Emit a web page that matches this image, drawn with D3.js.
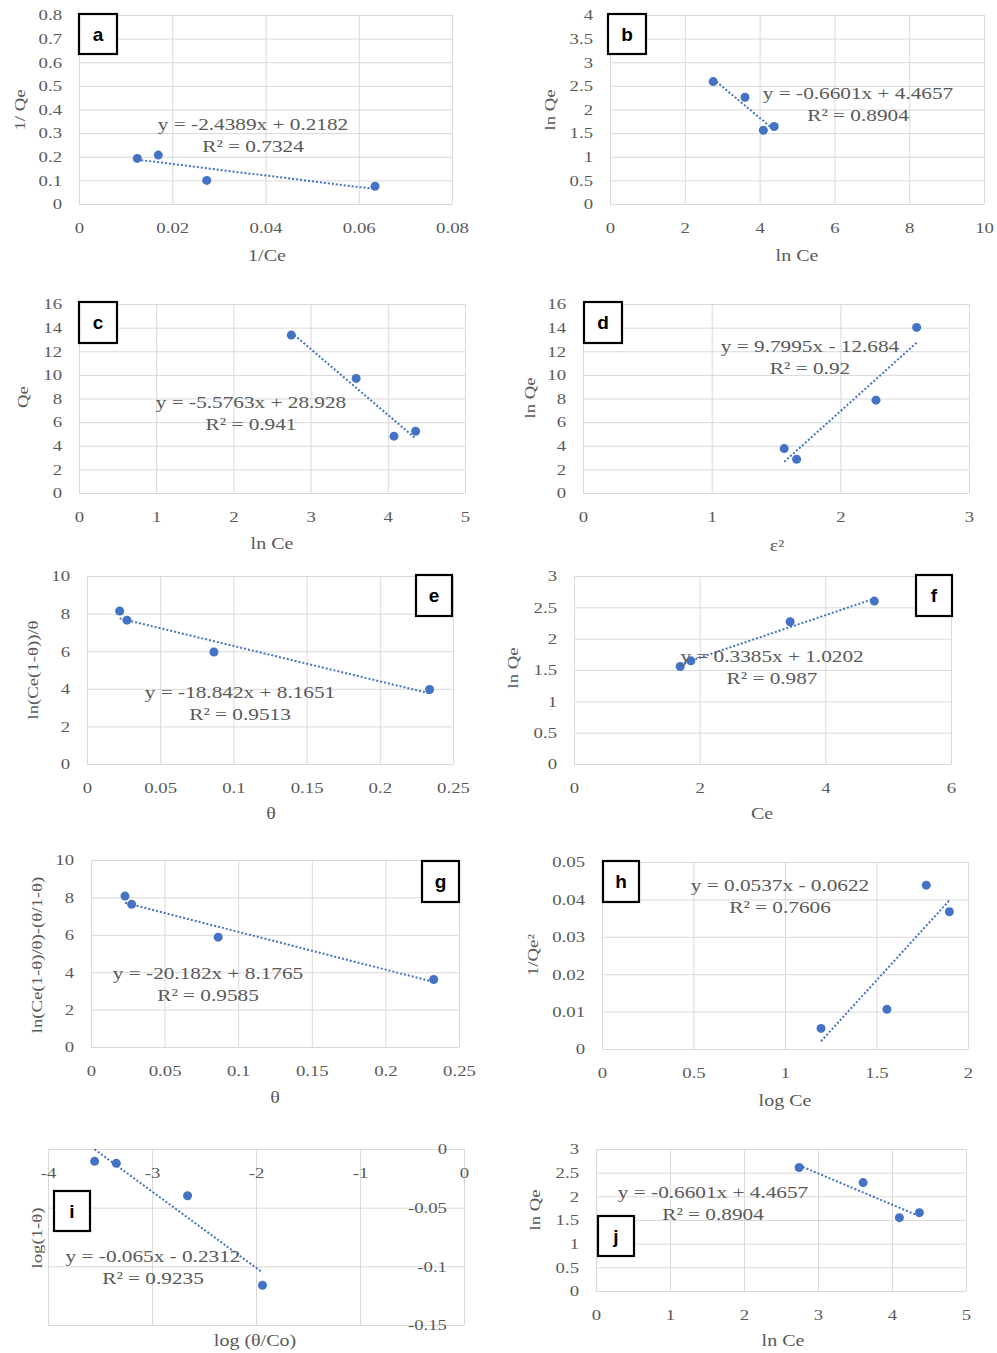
<!DOCTYPE html>
<html>
<head>
<meta charset="utf-8">
<script src="https://cdn.jsdelivr.net/npm/d3@7"></script>
<style>
   body { margin: 0; background: #fff; }
   svg text { font-family: "Liberation Serif", "Times New Roman", serif; fill: #595959; }
</style>
</head>
<body>
<svg id="fig" width="997" height="1353"></svg>
<script>
// a - Langmuir
var aX = [0.0125, 0.017, 0.0274, 0.0635];
var aY = [0.193, 0.207, 0.100, 0.075];
var aFit = [-2.4389, 0.2182];
var aXTicks = [0, 0.02, 0.04, 0.06, 0.08];
var aYTicks = [0, 0.1, 0.2, 0.3, 0.4, 0.5, 0.6, 0.7, 0.8];

// b - Freundlich
var bX = [2.76, 3.61, 4.10, 4.39];
var bY = [2.59, 2.26, 1.56, 1.64];
var bFit = [-0.6601, 4.4657];
var bXTicks = [0, 2, 4, 6, 8, 10];
var bYTicks = [0, 0.5, 1, 1.5, 2, 2.5, 3, 3.5, 4];

// c - Temkin
var cX = [2.75, 3.59, 4.08, 4.36];
var cY = [13.37, 9.70, 4.81, 5.23];
var cFit = [-5.5763, 28.928];
var cXTicks = [0, 1, 2, 3, 4, 5];
var cYTicks = [0, 2, 4, 6, 8, 10, 12, 14, 16];

// d - D-R
var dX = [1.564, 1.66, 2.277, 2.593];
var dY = [3.76, 2.86, 7.86, 14.02];
var dFit = [9.7995, -12.684];
var dXTicks = [0, 1, 2, 3];
var dYTicks = [0, 2, 4, 6, 8, 10, 12, 14, 16];

// e
var eX = [0.0223, 0.0273, 0.0867, 0.234];
var eY = [8.14, 7.65, 5.96, 3.96];
var eFit = [-18.842, 8.1651];
var eXTicks = [0, 0.05, 0.1, 0.15, 0.2, 0.25];
var eYTicks = [0, 2, 4, 6, 8, 10];

// f
var fX = [1.69, 1.86, 3.44, 4.78];
var fY = [1.556, 1.646, 2.27, 2.60];
var fFit = [0.3385, 1.0202];
var fXTicks = [0, 2, 4, 6];
var fYTicks = [0, 0.5, 1, 1.5, 2, 2.5, 3];

// g
var gX = [0.0231, 0.0276, 0.0864, 0.2328];
var gY = [8.07, 7.63, 5.875, 3.61];
var gFit = [-20.182, 8.1765];
var gXTicks = [0, 0.05, 0.1, 0.15, 0.2, 0.25];
var gYTicks = [0, 2, 4, 6, 8, 10];

// h
var hX = [1.197, 1.557, 1.772, 1.898];
var hY = [0.0055, 0.0106, 0.0438, 0.0367];
var hFit = [0.0537, -0.0622];
var hXTicks = [0, 0.5, 1, 1.5, 2];
var hYTicks = [0, 0.01, 0.02, 0.03, 0.04, 0.05];

// i
var iX = [-3.552, -3.343, -2.658, -1.938];
var iY = [-0.0105, -0.0122, -0.0398, -0.1161];
var iFit = [-0.065, -0.2312];
var iXTicks = [-4, -3, -2, -1, 0];
var iYTicks = [-0.15, -0.1, -0.05, 0];

// j
var jX = [2.745, 3.61, 4.10, 4.37];
var jY = [2.61, 2.29, 1.55, 1.655];
var jFit = [-0.6601, 4.4657];
var jXTicks = [0, 1, 2, 3, 4, 5];
var jYTicks = [0, 0.5, 1, 1.5, 2, 2.5, 3];

var eqTexts = {
   a: ["y = -2.4389x + 0.2182", "R\u00b2 = 0.7324"],
   b: ["y = -0.6601x + 4.4657", "R\u00b2 = 0.8904"],
   c: ["y = -5.5763x + 28.928", "R\u00b2 = 0.941"],
   d: ["y = 9.7995x - 12.684", "R\u00b2 = 0.92"],
   e: ["y = -18.842x + 8.1651", "R\u00b2 = 0.9513"],
   f: ["y = 0.3385x + 1.0202", "R\u00b2 = 0.987"],
   g: ["y = -20.182x + 8.1765", "R\u00b2 = 0.9585"],
   h: ["y = 0.0537x - 0.0622", "R\u00b2 = 0.7606"],
   i: ["y = -0.065x - 0.2312", "R\u00b2 = 0.9235"],
   j: ["y = -0.6601x + 4.4657", "R\u00b2 = 0.8904"]
};

var axisTitles = {
   a: ["1/Ce", "1/ Qe"], b: ["ln Ce", "ln Qe"], c: ["ln Ce", "Qe"], d: ["\u03b5\u00b2", "ln Qe"],
   e: ["\u03b8", "ln(Ce(1-\u03b8))/\u03b8"], f: ["Ce", "ln Qe"],
   g: ["\u03b8", "ln(Ce(1-\u03b8)/\u03b8)-(\u03b8/1-\u03b8)"], h: ["log Ce", "1/Qe\u00b2"],
   i: ["log (\u03b8/Co)", "log(1-\u03b8)"], j: ["ln Ce", "ln Qe"]
};

// layout: plot box, equation spot, title spots, letter box
var panels = [
   { id: "a", xs: aX, ys: aY, fit: aFit, xt: aXTicks, yt: aYTicks, box: [79, 452, 15, 204],
     eq: [253, 124], xT: [267, 255], yT: [20, 110], tag: [79, 14, 38, 40] },
   { id: "b", xs: bX, ys: bY, fit: bFit, xt: bXTicks, yt: bYTicks, box: [610, 984, 15, 204],
     eq: [858, 93], xT: [797, 255], yT: [550, 110], tag: [608, 14, 38, 40] },
   { id: "c", xs: cX, ys: cY, fit: cFit, xt: cXTicks, yt: cYTicks, box: [79, 465, 304, 493],
     eq: [251, 402], xT: [272, 543], yT: [23, 397], tag: [79, 302, 38, 41] },
   { id: "d", xs: dX, ys: dY, fit: dFit, xt: dXTicks, yt: dYTicks, box: [583, 969, 304, 493],
     eq: [810, 346], xT: [777, 545], yT: [530, 398], tag: [584, 302, 38, 41] },
   { id: "e", xs: eX, ys: eY, fit: eFit, xt: eXTicks, yt: eYTicks, box: [87, 453, 576, 764],
     eq: [240, 692], xT: [271, 813], yT: [33, 670], tag: [416, 575, 36, 41] },
   { id: "f", xs: fX, ys: fY, fit: fFit, xt: fXTicks, yt: fYTicks, box: [574, 951, 576, 764],
     eq: [772, 656], xT: [762, 813], yT: [513, 668], tag: [916, 575, 36, 41] },
   { id: "g", xs: gX, ys: gY, fit: gFit, xt: gXTicks, yt: gYTicks, box: [91, 459, 860, 1047],
     eq: [208, 973], xT: [275, 1097], yT: [37, 955], tag: [422, 861, 37, 41] },
   { id: "h", xs: hX, ys: hY, fit: hFit, xt: hXTicks, yt: hYTicks, box: [602, 968, 862, 1049],
     eq: [780, 885], xT: [785, 1100], yT: [533, 955], tag: [603, 861, 36, 41] },
   { id: "i", xs: iX, ys: iY, fit: iFit, xt: iXTicks, yt: iYTicks, box: [48, 464, 1149, 1325],
     eq: [153, 1256], xT: [255, 1340], yT: [37, 1238], tag: [54, 1191, 36, 40] },
   { id: "j", xs: jX, ys: jY, fit: jFit, xt: jXTicks, yt: jYTicks, box: [596, 966, 1149, 1291],
     eq: [713, 1192], xT: [783, 1340], yT: [535, 1210], tag: [598, 1216, 36, 40] }
];

var BLUE = "#4472c4", GRID = "#d9d9d9", STRETCH = 1.25;
var svg = d3.select("#fig");
svg.append("rect").attr("width", 997).attr("height", 1353).attr("fill", "#fff");

function label(g, txt, x, y, size, rot) {
   return g.append("text")
      .attr("transform", "translate(" + x + "," + y + ")" + (rot ? " rotate(" + rot + ")" : "") + " scale(" + STRETCH + ",1)")
      .attr("text-anchor", "middle")
      .attr("dy", "0.35em")
      .attr("font-size", size)
      .text(txt);
}

panels.forEach(function(p) {
   var g = svg.append("g");
   var x = d3.scaleLinear().domain(d3.extent(p.xt)).range([p.box[0], p.box[1]]);
   var y = d3.scaleLinear().domain(d3.extent(p.yt)).range([p.box[3], p.box[2]]);
   var fmt = function(v) { return String(v); };

   // gridlines
   g.append("g").attr("transform", "translate(0," + p.box[3] + ")")
      .call(d3.axisBottom(x).tickValues(p.xt).tickSize(p.box[2] - p.box[3]).tickFormat(""))
      .call(function(s) { s.select(".domain").remove(); s.selectAll("line").attr("stroke", GRID); });
   g.append("g").attr("transform", "translate(" + p.box[0] + ",0)")
      .call(d3.axisLeft(y).tickValues(p.yt).tickSize(p.box[0] - p.box[1]).tickFormat(""))
      .call(function(s) { s.select(".domain").remove(); s.selectAll("line").attr("stroke", GRID); });

   // tick labels; axes cross at zero (matters for panel i)
   var xAt = y(Math.max(y.domain()[0], Math.min(0, y.domain()[1])));
   var yAt = x(Math.max(x.domain()[0], Math.min(0, x.domain()[1])));
   g.append("g").attr("transform", "translate(0," + xAt + ")")
      .call(d3.axisBottom(x).tickValues(p.xt).tickSize(0).tickPadding(18).tickFormat(fmt))
      .call(function(s) {
         s.select(".domain").remove();
         s.selectAll("text").attr("font-size", 15).attr("font-family", null).attr("transform", "scale(" + STRETCH + ",1)");
      });
   g.append("g").attr("transform", "translate(" + yAt + ",0)")
      .call(d3.axisLeft(y).tickValues(p.yt).tickSize(0).tickPadding(13.6).tickFormat(fmt))
      .call(function(s) {
         s.select(".domain").remove();
         s.selectAll("text").attr("font-size", 15).attr("font-family", null).attr("transform", "scale(" + STRETCH + ",1)");
      });

   // points
   var pts = p.xs.map(function(v, k) { return [v, p.ys[k]]; });
   g.selectAll("circle").data(pts).enter().append("circle")
      .attr("cx", function(d) { return x(d[0]); })
      .attr("cy", function(d) { return y(d[1]); })
      .attr("r", 4.5)
      .attr("fill", BLUE);

   // linear trendline over the data range
   var ext = d3.extent(p.xs);
   var line = d3.line().x(function(d) { return x(d); }).y(function(d) { return y(p.fit[0] * d + p.fit[1]); });
   g.append("path").attr("d", line(ext))
      .attr("fill", "none").attr("stroke", BLUE).attr("stroke-width", 2)
      .attr("stroke-dasharray", "2 2");

   // equation + R²
   var eq = eqTexts[p.id];
   label(g, eq[0], p.eq[0], p.eq[1], 17);
   label(g, eq[1], p.eq[0], p.eq[1] + 22, 17);

   // axis titles
   var t = axisTitles[p.id];
   label(g, t[0], p.xT[0], p.xT[1], 16);
   label(g, t[1], p.yT[0], p.yT[1], 15, -90);

   // letter tag
   g.append("rect").attr("x", p.tag[0]).attr("y", p.tag[1]).attr("width", p.tag[2]).attr("height", p.tag[3])
      .attr("fill", "#fff").attr("stroke", "#000").attr("stroke-width", 2.2);
   g.append("text")
      .attr("x", p.tag[0] + p.tag[2] / 2).attr("y", p.tag[1] + p.tag[3] / 2)
      .attr("text-anchor", "middle").attr("dy", "0.35em")
      .style("font-family", "'Liberation Sans', Arial, sans-serif")
      .style("font-weight", "bold").style("font-size", "19px").style("fill", "#000")
      .text(p.id);
});
</script>
</body>
</html>
